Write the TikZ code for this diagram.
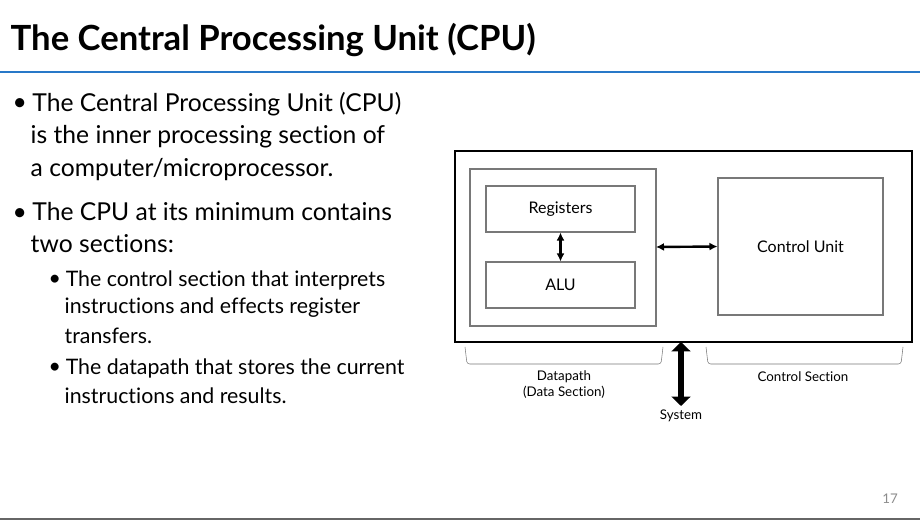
\documentclass[tikz,border=0pt]{standalone}
\usepackage{fontspec}
\setmainfont{Lato}[Ligatures={NoCommon}]
\usetikzlibrary{arrows.meta}
\definecolor{rule}{RGB}{40,120,200}
\definecolor{boxgray}{RGB}{120,120,120}

\tikzset{
  box/.style={draw=boxgray, line width=0.8pt},
  lbl/.style={font=\fontsize{12}{13}\selectfont},
  bul/.style={anchor=west, font=\fontsize{18.5}{20}\selectfont},
  sub/.style={anchor=west, font=\fontsize{16}{18}\selectfont},
}
\newcommand{\dotb}{\makebox[0.8em][l]{\raisebox{0.05ex}{\textbullet}}}

\begin{document}
\begin{tikzpicture}[x=0.75pt,y=-0.75pt]
                \useasboundingbox (0,0) rectangle (920,523);
                % title and rules
                \node[anchor=west, font=\fontsize{26}{28}\selectfont\bfseries] (title) at (6,40) {The Central Processing Unit (CPU)};
                \draw[rule, line width=1.5pt] (0,72) -- (920,72);
                \draw[black!60, line width=1pt] (0,519) -- (920,519);
                \node[text=black!45, font=\fontsize{10}{12}\selectfont] (page) at (890,499) {17};
                % bullet text
                \node[bul] (b1) at (8,104) {\dotb The Central Processing Unit (CPU)};
                \node[bul] (b1b) at (26,137) {is the inner processing section of};
                \node[bul] (b1c) at (26,170) {a computer/microprocessor.};
                \node[bul] (b2) at (8,212) {\dotb The CPU at its minimum contains};
                \node[bul] (b2b) at (26,244) {two sections:};
                \node[sub] (s1) at (44,280) {\dotb The control section that interprets};
                \node[sub] (s1b) at (60,308) {instructions and effects register};
                \node[sub] (s1c) at (60,336) {transfers.};
                \node[sub] (s2) at (44,368) {\dotb The datapath that stores the current};
                \node[sub] (s2b) at (60,396) {instructions and results.};
                % CPU block
                \draw[line width=2.2pt] (455,151) rectangle (912,342);
                \draw[box] (470,169) rectangle (656,326);
                \node[box, minimum width=149*0.75pt, minimum height=46*0.75pt, lbl] (reg) at (560.5,209) {Registers};
                \node[box, minimum width=149*0.75pt, minimum height=46*0.75pt, lbl] (alu) at (560.5,285) {ALU};
                \node[box, minimum width=165*0.75pt, minimum height=137*0.75pt, lbl] (cu) at (800.5,246.5) {Control Unit};
                \coordinate (dp) at (656,247);
                \draw[{Latex[length=6pt,width=6pt]}-{Latex[length=6pt,width=6pt]}, line width=1.8pt] (reg) -- (alu);
                \draw[{Latex[length=6pt,width=6pt]}-{Latex[length=6pt,width=6pt]}, line width=1.8pt] (dp) -- (cu.west);
                % system bus
                \coordinate (bt) at (681,342);
                \node[font=\fontsize{10}{12}\selectfont] (sys) at (681,416) {System};
                \draw[{Triangle[length=7pt,width=14pt]}-{Triangle[length=7pt,width=14pt]}, line width=5pt] (bt) -- (681,406);
                % section brackets
                \draw[boxgray, rounded corners=2pt] (465,347) -- (467,364) -- (661,364) -- (663,347);
                \draw[boxgray, rounded corners=2pt] (706,347) -- (708,364) -- (901,364) -- (903,347);
                \node[align=center, font=\fontsize{10}{12}\selectfont] (dpl) at (564,385) {Datapath\\(Data Section)};
                \node[font=\fontsize{10}{12}\selectfont] (csl) at (803,377) {Control Section};
\end{tikzpicture}
\end{document}
